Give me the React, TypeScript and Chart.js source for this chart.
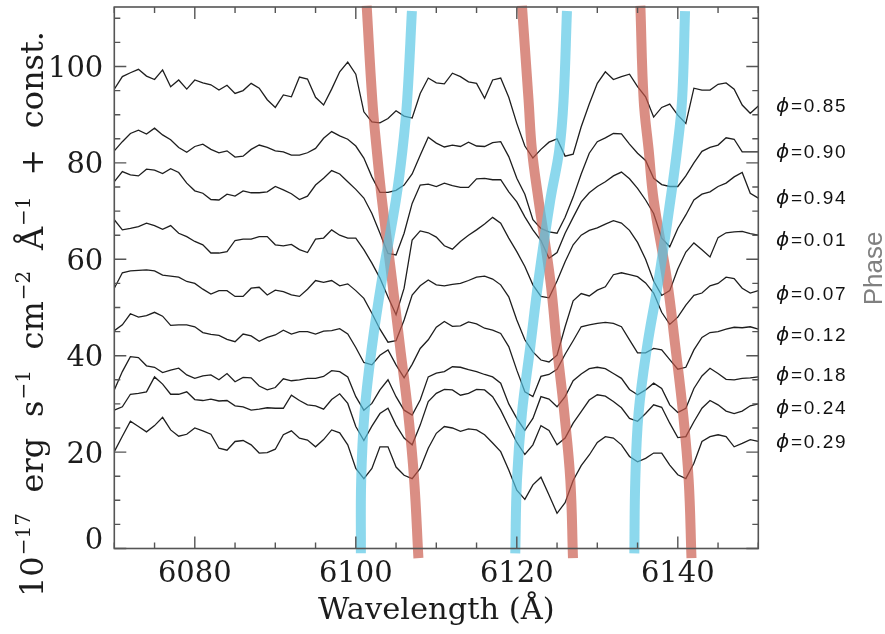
import React, { useEffect, useRef } from "react";
import { Chart, registerables } from "chart.js";
Chart.register(...registerables);

// Wavelength grid (Å)
const wavelength = [
  6070, 6071, 6072, 6073, 6074, 6075, 6076, 6077, 6078, 6079, 6080, 6081, 6082, 6083, 6084, 6085, 6086, 6087, 6088, 6089,
  6090, 6091, 6092, 6093, 6094, 6095, 6096, 6097, 6098, 6099, 6100, 6101, 6102, 6103, 6104, 6105, 6106, 6107, 6108, 6109,
  6110, 6111, 6112, 6113, 6114, 6115, 6116, 6117, 6118, 6119, 6120, 6121, 6122, 6123, 6124, 6125, 6126, 6127, 6128, 6129,
  6130, 6131, 6132, 6133, 6134, 6135, 6136, 6137, 6138, 6139, 6140, 6141, 6142, 6143, 6144, 6145, 6146, 6147, 6148, 6149, 6150,
];

// Flux (10^-17 erg s^-1 cm^-2 Å^-1 + const.) per phase
const flux085 = [
  95.3, 97.9, 98.7, 99.4, 98.0, 97.3, 99.3, 95.8, 97.2, 95.3, 97.2, 96.6, 96.2, 95.1, 96.1, 94.4, 95.0, 96.5, 95.5, 93.1,
  91.5, 94.1, 93.7, 97.8, 97.4, 93.6, 92.0, 95.3, 98.9, 100.9, 98.4, 90.6, 88.5, 88.3, 89.2, 90.8, 89.7, 89.3, 94.4, 97.6,
  96.6, 96.4, 98.6, 97.9, 96.8, 96.5, 93.4, 97.2, 97.6, 93.6, 88.2, 83.5, 81.0, 82.8, 84.3, 85.0, 81.4, 81.8, 87.5, 92.2,
  96.5, 98.9, 97.3, 97.9, 98.4, 95.8, 93.7, 89.5, 91.5, 92.2, 89.9, 88.2, 95.5, 95.1, 95.1, 96.3, 96.6, 95.3, 92.0, 90.3, 91.8,
];
const flux090 = [
  82.5, 84.4, 86.1, 86.8, 86.0, 87.2, 85.8, 84.8, 83.2, 82.2, 83.4, 83.9, 82.8, 82.1, 82.5, 81.2, 81.4, 82.8, 83.7, 83.2,
  82.5, 82.3, 81.6, 81.6, 82.1, 83.0, 85.1, 86.5, 85.6, 84.9, 83.5, 81.0, 77.1, 73.9, 73.9, 74.3, 75.4, 77.7, 81.6, 85.3,
  84.1, 83.3, 83.7, 83.4, 84.3, 83.5, 83.4, 84.2, 84.4, 81.3, 76.8, 73.5, 68.2, 66.4, 65.7, 65.4, 68.7, 72.9, 77.7, 82.0,
  84.4, 85.2, 86.1, 86.0, 83.9, 82.0, 80.5, 76.8, 75.5, 75.1, 75.1, 77.3, 80.0, 82.4, 83.2, 83.7, 85.2, 84.9, 82.3, 82.3, 82.3,
];
const flux094 = [
  76.1, 78.2, 77.5, 77.3, 78.7, 78.5, 77.8, 78.8, 78.0, 75.8, 74.2, 73.7, 72.4, 72.3, 73.5, 73.1, 74.2, 73.8, 73.8, 74.0,
  75.1, 74.4, 73.6, 72.4, 73.1, 75.4, 76.8, 78.4, 77.7, 76.1, 74.5, 72.7, 69.5, 65.4, 61.2, 60.9, 65.4, 71.6, 75.4, 75.6,
  75.1, 75.8, 75.3, 74.9, 74.9, 76.7, 76.8, 76.5, 76.5, 74.0, 71.9, 68.8, 66.1, 63.9, 60.2, 61.4, 65.4, 68.7, 71.9, 73.8,
  75.1, 76.1, 77.3, 78.1, 76.7, 74.7, 72.3, 69.5, 64.4, 62.6, 66.4, 69.2, 72.3, 73.5, 74.0, 75.1, 75.8, 77.1, 78.0, 73.7, 72.7,
];
const flux001 = [
  68.2, 66.1, 66.4, 66.8, 67.5, 67.0, 66.2, 67.0, 65.4, 64.7, 63.7, 63.0, 61.3, 61.3, 61.6, 63.9, 64.2, 64.2, 64.7, 64.7,
  63.0, 62.8, 63.1, 62.0, 61.4, 64.2, 64.4, 66.1, 65.0, 64.4, 64.4, 62.0, 59.2, 56.1, 52.2, 48.5, 54.0, 64.0, 65.9, 65.5,
  64.6, 62.8, 62.1, 63.7, 65.0, 66.1, 67.3, 68.7, 67.5, 64.4, 61.6, 58.5, 54.7, 52.3, 52.0, 55.5, 59.5, 63.0, 65.0, 66.0,
  66.5, 67.3, 68.0, 67.5, 66.0, 63.5, 60.0, 55.5, 52.5, 53.5, 58.0, 61.5, 63.4, 62.0, 60.5, 64.5, 65.5, 65.7, 65.8, 65.3, 65.0,
];
const flux007 = [
  54.0, 57.2, 57.6, 57.7, 57.8, 57.6, 56.7, 56.5, 56.3, 55.4, 55.0, 53.8, 52.8, 53.5, 53.5, 52.3, 52.3, 54.0, 54.2, 52.6,
  53.6, 53.3, 52.6, 52.3, 53.8, 55.6, 55.2, 55.6, 54.5, 54.9, 53.5, 51.9, 48.8, 45.5, 42.8, 43.1, 47.4, 52.6, 54.5, 55.7,
  54.7, 54.5, 54.8, 55.0, 55.6, 56.3, 56.5, 55.9, 54.7, 52.2, 47.4, 43.3, 40.8, 39.1, 38.7, 40.1, 46.0, 51.4, 52.9, 52.4,
  53.6, 54.3, 56.8, 57.2, 56.8, 56.4, 55.1, 53.0, 49.0, 46.5, 48.0, 50.5, 52.5, 53.0, 54.5, 55.0, 56.3, 56.0, 54.0, 53.0, 53.5,
];
const flux012 = [
  45.2, 46.4, 48.7, 48.0, 48.3, 49.0, 48.2, 46.3, 46.4, 46.4, 46.0, 44.8, 44.4, 44.2, 43.4, 42.9, 44.5, 44.1, 43.0, 43.8,
  44.3, 45.3, 44.5, 45.0, 45.0, 44.5, 45.1, 45.2, 45.6, 44.5, 41.7, 38.6, 38.1, 40.1, 41.2, 38.1, 35.4, 38.2, 41.5, 43.3,
  45.9, 47.1, 46.1, 46.2, 47.0, 46.6, 45.7, 45.3, 44.6, 41.9, 37.0, 32.5, 31.5, 35.7, 36.1, 37.2, 40.3, 43.1, 46.0, 46.4,
  46.7, 46.9, 46.7, 46.0, 43.3, 40.6, 40.6, 41.5, 41.2, 39.2, 37.2, 37.6, 41.2, 43.8, 44.8, 45.0, 45.5, 45.9, 45.8, 46.0, 45.5,
];
const flux018 = [
  32.9, 36.7, 39.8, 39.6, 37.9, 37.6, 36.5, 37.0, 37.4, 36.0, 35.3, 35.8, 36.0, 35.0, 36.3, 34.6, 35.5, 35.4, 33.7, 32.9,
  33.4, 35.2, 34.8, 35.0, 35.3, 35.3, 35.7, 36.9, 36.7, 35.6, 31.5, 28.7, 30.1, 32.9, 35.0, 31.5, 28.7, 27.7, 30.8, 35.6,
  36.4, 36.7, 37.7, 37.6, 37.1, 36.7, 36.1, 35.6, 34.3, 30.0, 27.0, 24.5, 27.0, 31.5, 31.0, 29.4, 31.5, 34.8, 36.2, 37.3,
  37.6, 37.3, 36.3, 35.3, 33.0, 31.9, 32.9, 34.3, 33.2, 29.8, 28.2, 29.1, 33.2, 35.8, 37.4, 36.3, 35.1, 35.0, 35.3, 35.4, 35.6,
];
const flux024 = [
  28.7, 29.4, 32.0, 32.2, 32.5, 35.6, 34.1, 32.0, 32.0, 32.5, 30.9, 30.7, 31.0, 30.6, 30.7, 29.6, 29.4, 28.7, 28.9, 29.2,
  29.1, 29.1, 31.8, 30.7, 29.8, 29.6, 28.9, 30.9, 32.1, 30.1, 25.3, 22.4, 25.4, 28.0, 29.1, 25.6, 22.9, 21.5, 25.6, 30.5,
  32.2, 33.0, 32.9, 31.8, 32.2, 33.0, 32.9, 31.5, 28.7, 25.3, 22.0, 19.5, 21.5, 25.5, 24.5, 21.5, 22.9, 26.0, 28.4, 30.8,
  31.9, 31.6, 30.5, 29.2, 27.0, 26.4, 28.0, 29.8, 29.3, 26.0, 23.0, 23.2, 26.3, 29.1, 30.7, 29.8, 28.5, 28.0, 28.5, 29.6, 30.0,
];
const flux029 = [
  20.1, 23.3, 26.4, 25.3, 24.2, 25.5, 27.2, 24.6, 23.3, 23.7, 25.0, 24.4, 23.7, 20.8, 20.4, 22.2, 22.4, 21.5, 19.8, 19.9,
  20.6, 23.6, 24.4, 22.9, 22.5, 21.1, 22.6, 24.6, 24.0, 21.5, 16.6, 14.5, 16.6, 21.1, 21.1, 16.9, 15.2, 14.5, 16.6, 20.8,
  23.9, 25.3, 25.0, 24.3, 24.8, 24.6, 23.6, 21.9, 20.1, 16.3, 12.1, 10.2, 13.2, 14.8, 11.1, 7.3, 9.5, 14.1, 17.2, 19.4,
  22.0, 23.2, 22.9, 21.5, 19.1, 18.0, 18.7, 19.8, 19.8, 17.3, 15.3, 14.5, 17.7, 22.2, 23.2, 23.6, 23.2, 21.1, 21.8, 22.6, 22.2,
];

const phaseNames = ["0.85", "0.90", "0.94", "0.01", "0.07", "0.12", "0.18", "0.24", "0.29"];
const phaseLabelY = [92.1, 82.5, 72.9, 64.2, 53.0, 44.6, 36.3, 29.3, 22.3];

// Radial-velocity tracks (line positions in Å, at given heights)
const redTrackY = [112.6, 93.05, 82.7, 72.3, 55.7, 41.8, 28.1, 14.2, -2.0];
const redTrackA = [6101.35, 6102.05, 6102.6, 6103.25, 6104.5, 6105.5, 6106.5, 6107.25, 6107.78];
const redTrackB = [6120.64, 6121.46, 6121.88, 6122.7, 6124.16, 6124.99, 6125.9, 6126.65, 6126.98];
const redTrackC = [6135.35, 6135.76, 6136.38, 6137.0, 6138.66, 6139.7, 6140.65, 6141.35, 6141.7];
const blueTrackY = [111.5, 93.05, 82.7, 72.3, 55.7, 41.8, 28.1, 14.2, -1.0];
const blueTrackA = [6106.97, 6106.38, 6105.8, 6104.98, 6103.24, 6102.0, 6101.08, 6100.67, 6100.63];
const blueTrackB = [6126.23, 6125.81, 6125.28, 6124.16, 6122.7, 6121.67, 6120.64, 6120.02, 6119.81];
const blueTrackC = [6140.9, 6140.53, 6139.91, 6139.08, 6137.62, 6136.18, 6135.13, 6134.72, 6134.6];

const xMajorTicks = [6080, 6100, 6120, 6140];
const yMajorTicks = [0, 20, 40, 60, 80, 100];

const SERIF = '"DejaVu Serif", "Liberation Serif", serif';
const SANS = '"Liberation Sans", Arial, sans-serif';

const decor = {
  id: "decor",
  afterDatasetsDraw(chart: any) {
    const { ctx, chartArea: a, scales } = chart;
    const xs = scales.x;
    const ys = scales.y;
    ctx.save();
    // ticks
    ctx.strokeStyle = "#555";
    ctx.lineWidth = 1.4;
    ctx.beginPath();
    for (let v = 6070; v <= 6150; v += 5) {
      const len = xMajorTicks.includes(v) ? 12 : 6;
      const p = xs.getPixelForValue(v);
      ctx.moveTo(p, a.bottom);
      ctx.lineTo(p, a.bottom - len);
      ctx.moveTo(p, a.top);
      ctx.lineTo(p, a.top + len);
    }
    for (let v = 0; v <= 110; v += 5) {
      const len = v % 20 === 0 ? 12 : 6;
      const p = ys.getPixelForValue(v);
      ctx.moveTo(a.left, p);
      ctx.lineTo(a.left + len, p);
      ctx.moveTo(a.right, p);
      ctx.lineTo(a.right - len, p);
    }
    ctx.stroke();
    ctx.lineWidth = 1.6;
    ctx.strokeRect(a.left, a.top, a.right - a.left, a.bottom - a.top);

    // tick labels
    ctx.fillStyle = "#1c1c1c";
    ctx.font = `29px ${SERIF}`;
    ctx.textAlign = "center";
    ctx.textBaseline = "alphabetic";
    for (const v of xMajorTicks) ctx.fillText(String(v), xs.getPixelForValue(v), a.bottom + 33.5);
    ctx.textAlign = "right";
    for (const v of yMajorTicks) {
      const p = ys.getPixelForValue(v);
      const base = v === 0 ? p : p + 10.6;
      ctx.fillText(String(v), a.left - 11, base);
    }

    // x title
    ctx.textAlign = "center";
    ctx.font = `30.5px ${SERIF}`;
    ctx.fillText("Wavelength (Å)", (a.left + a.right) / 2, a.bottom + 70);

    // y title (rotated, with superscripts), spread to its full length
    const parts: [string, boolean][] = [
      ["10", false], ["−17", true], ["erg", false], ["s", false], ["−1", true], ["cm", false],
      ["−2", true], ["Å", false], ["−1", true], ["+", false], ["const.", false],
    ];
    const mainFont = `32px ${SERIF}`;
    const supFont = `20px ${SERIF}`;
    const widths: number[] = [];
    let glyphTotal = 0;
    for (const [t, sup] of parts) {
      ctx.font = sup ? supFont : mainFont;
      const w = ctx.measureText(t).width;
      widths.push(w);
      glyphTotal += w;
    }
    // gaps occur before every non-superscript part except the first
    const gapCount = parts.filter(([, sup], i) => i > 0 && !sup).length;
    const targetLen = 562;
    const gap = (targetLen - glyphTotal) / gapCount;
    ctx.save();
    ctx.translate(43, 316);
    ctx.rotate(-Math.PI / 2);
    ctx.textAlign = "left";
    let cx = -targetLen / 2;
    parts.forEach(([t, sup], i) => {
      if (i > 0 && !sup) cx += gap;
      ctx.font = sup ? supFont : mainFont;
      ctx.fillText(t, cx + (sup ? 1 : 0), sup ? -13 : 0);
      cx += widths[i] + (sup ? 1 : 0);
    });
    ctx.restore();

    // phase labels
    ctx.textAlign = "left";
    ctx.fillStyle = "#111";
    phaseNames.forEach((name, i) => {
      const p = ys.getPixelForValue(phaseLabelY[i]);
      ctx.font = `italic 20px "DejaVu Sans", sans-serif`;
      ctx.fillText("ϕ", 776, p + 7);
      ctx.font = `19px ${SANS}`;
      (ctx as any).letterSpacing = "1.6px";
      ctx.fillText("=" + name, 791, p + 7);
      (ctx as any).letterSpacing = "0px";
    });

    // Phase axis title
    ctx.save();
    ctx.translate(882, 268.5);
    ctx.rotate(-Math.PI / 2);
    ctx.textAlign = "center";
    ctx.fillStyle = "#808080";
    ctx.font = `26px ${SANS}`;
    ctx.fillText("Phase", 0, 0);
    ctx.restore();

    ctx.restore();
  },
};

export default function App() {
  const ref = useRef<HTMLCanvasElement>(null);
  useEffect(() => {
    if (!ref.current) return;
    const spectra = [flux085, flux090, flux094, flux001, flux007, flux012, flux018, flux024, flux029];
    const datasets: any[] = [];
    spectra.forEach((f) => {
      datasets.push({
        data: wavelength.map((w, i) => ({ x: w, y: f[i] })),
        showLine: true,
        borderColor: "#1e1e1e",
        borderWidth: 1.3,
        pointRadius: 0,
        tension: 0,
        order: 2,
      });
    });
    [redTrackA, redTrackB, redTrackC].forEach((xsArr) => {
      datasets.push({
        data: xsArr.map((x, i) => ({ x, y: redTrackY[i] })),
        showLine: true,
        borderColor: "rgba(201, 89, 74, 0.68)",
        borderWidth: 10,
        pointRadius: 0,
        tension: 0.4,
        borderCapStyle: "butt",
        clip: false,
        order: 1,
      });
    });
    [blueTrackA, blueTrackB, blueTrackC].forEach((xsArr) => {
      datasets.push({
        data: xsArr.map((x, i) => ({ x, y: blueTrackY[i] })),
        showLine: true,
        borderColor: "rgba(85, 198, 228, 0.68)",
        borderWidth: 10,
        pointRadius: 0,
        tension: 0.4,
        borderCapStyle: "butt",
        clip: false,
        order: 0,
      });
    });

    const chart = new Chart(ref.current, {
      type: "scatter",
      data: { datasets },
      options: {
        animation: false,
        responsive: false,
        devicePixelRatio: 1,
        events: [],
        layout: { padding: { top: 7, right: 885 - 758.3, left: 0, bottom: 0 } },
        plugins: { legend: { display: false }, tooltip: { enabled: false } },
        scales: {
          x: {
            type: "linear",
            min: 6070,
            max: 6150,
            grid: { display: false },
            border: { display: false },
            ticks: { display: false },
            afterFit: (s: any) => {
              s.height = 634 - 548.5;
            },
          },
          y: {
            type: "linear",
            min: 0,
            max: 112.34,
            grid: { display: false },
            border: { display: false },
            ticks: { display: false },
            afterFit: (s: any) => {
              s.width = 114.3;
            },
          },
        },
      },
      plugins: [decor],
    });
    return () => chart.destroy();
  }, []);

  return (
    <div style={{ position: "fixed", left: 0, top: 0, width: 885, height: 634, background: "#fff" }}>
      <canvas ref={ref} width={885} height={634} style={{ display: "block", width: 885, height: 634 }} />
    </div>
  );
}
